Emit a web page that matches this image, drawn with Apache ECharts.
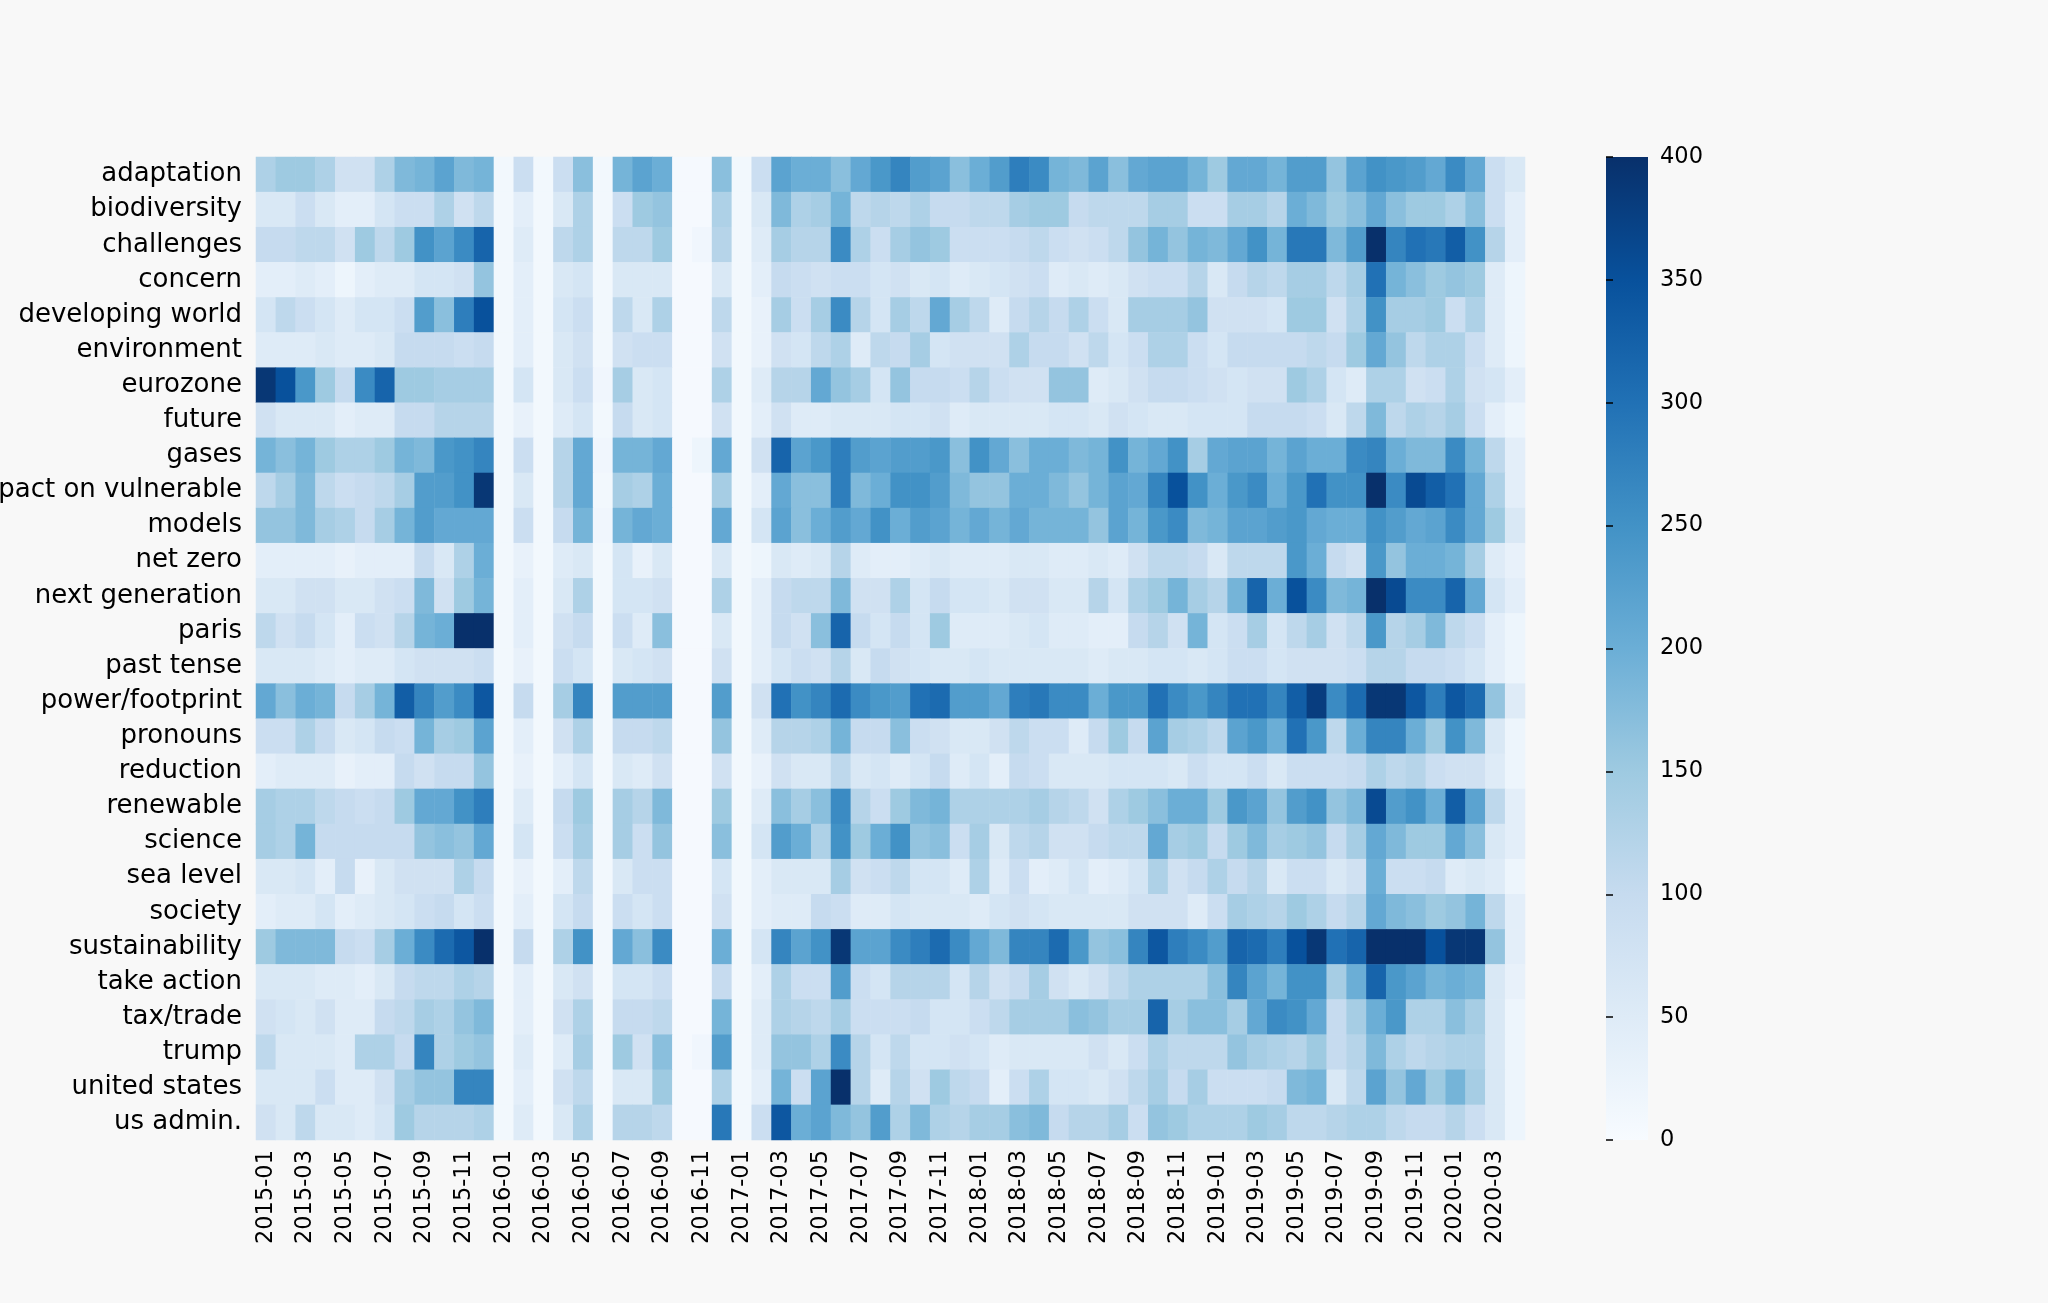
<!DOCTYPE html>
<html>
<head>
<meta charset="utf-8">
<script src="https://cdn.jsdelivr.net/npm/echarts@6/dist/echarts.min.js"></script>
<style>
  html, body { margin: 0; padding: 0; background: #f8f8f8; }
  #chart { width: 2048px; height: 1303px; }
</style>
</head>
<body>
<div id="chart"></div>
<script>
const terms = ['adaptation', 'biodiversity', 'challenges', 'concern', 'developing world', 'environment',
  'eurozone', 'future', 'gases', 'impact on vulnerable', 'models', 'net zero', 'next generation', 'paris',
  'past tense', 'power/footprint', 'pronouns', 'reduction', 'renewable', 'science', 'sea level', 'society',
  'sustainability', 'take action', 'tax/trade', 'trump', 'united states', 'us admin.'];

// 2015-01 .. 2020-04
const months = [];
for (let i = 0; i < 64; i++) {
  const y = 2015 + Math.floor(i / 12), m = (i % 12) + 1;
  months.push(y + '-' + (m < 10 ? '0' : '') + m);
}

// monthly counts per term, one row per term
const counts = [
  [130,150,150,130,80,80,130,180,190,220,180,190, 10,90,10,90,170,10,190,220,200,5,5,170,10,90, 220,200,200,170,210,240,270,230,220,170,200,230,280,260,190,180,220,170,210, 220,220,190,150,210,210,190,230,230,160,220,250,240,230,210,260,210,90,60],
  [60,60,90,60,40,40,70,90,90,130,80,110, 10,40,10,60,130,10,90,150,160,5,5,130,10,60, 180,130,140,190,110,120,110,130,100,100,110,110,140,150,150,100,110,110,110, 140,140,90,90,140,140,120,200,180,150,170,210,170,150,150,130,170,90,40],
  [100,100,110,110,80,150,110,150,250,220,260,320, 10,50,10,110,130,10,110,110,150,5,15,120,10,50, 140,120,120,260,130,90,140,160,150,90,90,90,100,110,90,80,90,110,160, 190,160,190,180,210,250,190,290,290,180,230,400,270,300,290,330,250,120,40],
  [40,40,50,40,20,40,50,50,70,70,80,160, 10,40,10,60,70,10,60,60,60,5,5,60,10,40, 100,90,80,90,90,70,80,60,70,50,60,70,80,90,50,60,50,60,80, 90,90,120,60,100,120,110,140,140,110,140,300,190,170,150,160,150,50,20],
  [70,110,90,70,50,70,70,90,230,170,280,350, 10,40,10,70,90,10,110,60,130,5,5,110,10,30, 140,90,140,260,120,70,140,110,210,140,110,50,100,120,100,130,90,60,140, 140,140,160,80,80,80,70,150,150,80,130,250,140,140,150,90,130,50,20],
  [50,50,50,60,50,50,60,100,100,100,90,100, 10,40,10,60,80,10,80,90,90,5,5,80,10,30, 80,70,110,130,50,110,100,140,70,80,80,80,130,100,100,80,110,70,90, 130,130,90,70,100,100,100,100,110,100,150,210,160,110,130,130,90,50,20],
  [390,350,240,150,100,260,320,150,150,140,140,140, 10,70,10,60,90,15,140,60,70,5,5,130,10,50, 120,120,210,160,140,70,160,100,100,90,120,90,80,80,160,160,50,60,80, 100,100,90,80,70,80,80,150,130,70,50,130,130,80,90,130,80,70,40],
  [80,60,60,60,40,50,50,100,100,120,120,120, 10,30,10,50,70,10,100,60,70,5,5,80,10,40, 80,50,50,60,60,60,70,70,80,50,60,60,60,60,70,70,60,80,70, 60,60,70,70,70,100,100,100,90,60,110,180,110,130,120,140,90,40,20],
  [190,170,190,150,130,130,150,190,180,240,250,270, 10,90,10,120,210,15,190,190,210,5,20,210,10,80, 320,220,240,280,230,220,230,230,240,170,250,210,170,200,200,180,190,250,190, 210,250,140,210,220,220,190,220,200,200,260,270,200,180,180,260,190,110,40],
  [110,140,180,110,90,100,110,140,230,230,250,390, 10,60,10,120,210,10,140,130,200,5,5,140,10,40, 210,170,170,280,180,200,250,250,230,180,160,160,200,200,180,160,190,220,210, 270,350,250,200,240,260,200,240,300,250,250,400,260,360,330,300,210,130,40],
  [160,160,180,140,130,100,140,190,230,210,210,210, 10,90,10,100,190,15,190,210,200,5,5,210,10,70, 220,170,200,230,210,250,200,230,220,190,210,190,210,190,190,190,160,220,190, 240,260,180,190,220,220,230,240,210,200,200,250,230,210,220,260,210,150,60],
  [40,40,40,40,30,40,40,40,100,60,130,200, 10,30,10,50,60,10,70,30,60,5,5,60,10,20, 60,50,60,120,50,40,40,50,60,50,50,50,60,60,50,50,60,50,80, 110,110,100,60,110,110,110,240,200,100,80,240,160,200,200,190,140,50,30],
  [60,60,80,80,60,60,80,90,180,80,150,190, 10,40,10,60,130,10,70,70,80,5,5,130,10,40, 100,110,110,180,80,80,130,70,100,70,70,60,80,80,60,60,120,70,130, 150,190,140,120,190,320,200,350,260,180,190,400,360,260,260,320,210,70,40],
  [110,80,100,70,40,90,80,120,190,200,400,400, 10,40,10,80,100,10,90,50,170,5,5,60,10,40, 100,80,170,320,100,70,100,70,150,50,50,50,60,70,50,50,40,40,100, 120,80,190,70,90,140,70,110,140,80,110,240,120,140,180,110,90,40,20],
  [60,60,60,50,40,50,50,70,80,80,80,90, 10,30,10,90,70,10,60,70,80,5,5,80,10,40, 70,90,80,120,60,100,80,70,60,60,70,60,60,60,60,60,50,60,60, 70,70,60,70,90,90,70,80,80,80,90,120,120,100,100,90,70,40,20],
  [210,170,200,190,100,140,190,330,270,230,260,340, 10,100,10,140,270,10,230,230,230,5,5,230,10,80, 300,250,270,310,260,240,230,300,310,230,230,210,280,290,260,260,200,240,240, 300,260,240,270,300,300,270,330,380,260,310,390,390,340,280,340,310,160,50],
  [90,90,130,100,60,70,100,90,190,140,150,220, 10,40,10,80,130,10,100,100,110,5,5,160,10,50, 120,120,130,190,100,100,170,90,80,60,60,80,110,90,90,50,100,150,100, 220,140,130,110,220,240,200,300,240,110,200,270,270,200,150,250,180,60,20],
  [40,50,50,50,30,40,40,100,80,100,100,160, 10,30,10,40,70,10,60,50,80,5,5,80,10,30, 80,60,60,110,60,70,50,70,100,50,70,40,100,90,60,60,60,70,70, 70,60,90,70,70,90,60,90,90,90,100,130,110,120,90,80,80,50,20],
  [140,130,130,110,100,90,100,150,210,210,250,280, 10,50,10,100,150,10,140,120,180,5,5,150,10,50, 170,140,170,260,120,90,150,180,190,130,130,130,130,140,120,110,80,130,150, 170,200,200,150,240,220,160,230,250,160,180,360,230,250,200,330,220,110,40],
  [140,130,190,100,100,100,100,100,160,170,160,210, 10,70,10,90,140,10,140,90,160,5,5,170,10,70, 230,200,130,250,150,200,250,160,170,90,140,60,110,120,80,80,100,110,110, 210,140,150,100,150,180,140,150,160,100,140,210,180,150,150,210,170,60,40],
  [60,60,70,40,100,30,60,80,80,80,130,100, 10,30,10,40,110,10,60,90,90,5,5,70,10,40, 60,60,60,140,80,90,110,70,70,50,130,50,90,40,50,70,40,50,70, 130,80,100,130,100,120,60,90,90,60,80,200,90,90,100,50,60,50,20],
  [40,50,50,70,40,50,60,70,90,100,70,90, 10,40,10,70,100,10,90,70,90,5,5,80,10,40, 50,50,100,90,50,50,70,60,60,60,50,70,80,70,60,60,60,60,80, 80,80,50,90,140,130,120,150,130,100,120,210,180,170,150,160,190,110,40],
  [150,180,180,180,100,90,140,200,260,310,340,400, 10,100,10,130,250,10,210,170,260,5,5,200,10,70, 270,220,250,390,220,220,260,280,310,260,210,180,270,270,310,240,160,170,270, 340,280,260,230,320,310,280,350,390,300,320,400,400,400,350,390,390,160,40],
  [60,60,60,50,50,40,60,100,110,110,130,120, 10,40,10,60,80,10,70,70,90,5,5,100,10,40, 130,90,90,230,90,70,120,120,120,70,120,80,100,140,80,60,80,110,130, 130,130,130,170,270,220,190,250,250,140,200,320,240,220,190,200,190,60,30],
  [80,70,60,80,50,50,100,110,140,130,160,180, 10,40,10,80,130,10,100,100,110,5,5,190,10,50, 130,120,110,140,90,90,90,100,70,70,90,110,140,140,140,170,160,140,140, 320,140,170,170,140,210,260,250,210,100,140,200,240,130,130,170,140,60,20],
  [110,60,60,60,50,130,130,100,270,130,150,160, 10,50,10,50,140,10,150,80,170,5,15,230,10,50, 160,160,130,260,120,70,110,70,70,80,70,50,60,60,60,60,80,60,90, 130,110,110,110,160,140,130,120,150,100,120,180,130,110,120,130,130,60,20],
  [60,60,60,90,50,50,80,140,160,160,270,270, 10,40,10,80,110,10,60,60,150,5,5,130,10,40, 190,90,220,400,120,50,120,80,150,110,100,40,90,130,70,70,60,80,110, 140,100,140,90,90,90,100,180,190,60,110,220,160,210,150,190,140,60,20],
  [80,60,110,60,60,50,70,150,120,120,120,130, 10,50,10,60,130,10,120,120,110,5,5,290,10,90, 340,200,220,180,160,230,130,180,130,120,140,140,170,180,100,120,120,140,90, 160,150,130,130,130,150,140,110,110,120,130,130,110,100,100,120,90,60,20]
];

const blues = ['#f7fbff', '#deebf7', '#c6dbef', '#9ecae1', '#6baed6', '#4292c6', '#2171b5', '#08519c', '#08306b'];

const data = [];
counts.forEach((row, y) => row.forEach((v, x) => data.push([x, y, v])));

const font = 'DejaVu Sans';
const chart = echarts.init(document.getElementById('chart'));
chart.setOption({
  backgroundColor: '#f8f8f8',
  animation: false,
  textStyle: { fontFamily: font },
  grid: [
    { left: 256, top: 157, width: 1269, height: 983, containLabel: false, outerBoundsMode: 'none' },
    { left: 1606, top: 157, width: 42, height: 983, containLabel: false, outerBoundsMode: 'none' }
  ],
  xAxis: [
    {
      type: 'category', data: months, gridIndex: 0,
      axisLine: { show: false },
      axisTick: { alignWithLabel: true, interval: 1, length: 7, lineStyle: { color: '#000', width: 1.5 } },
      axisLabel: { interval: 1, rotate: 90, color: '#000', fontSize: 22.5, fontFamily: font, margin: 10 },
      splitLine: { show: false }
    },
    {
      type: 'value', gridIndex: 1, min: 0, max: 1,
      axisLine: { show: false }, axisTick: { show: false }, axisLabel: { show: false }, splitLine: { show: false }
    }
  ],
  yAxis: [
    {
      type: 'category', data: terms, gridIndex: 0, inverse: true,
      axisLine: { show: false },
      axisTick: { alignWithLabel: true, length: 7, lineStyle: { color: '#000', width: 1.5 } },
      axisLabel: { color: '#000', fontSize: 26, fontFamily: font, margin: 14 },
      splitLine: { show: false }
    },
    {
      type: 'value', gridIndex: 1, position: 'right', min: 0, max: 400, interval: 50,
      axisLine: { show: false },
      axisTick: { show: true, length: 7, lineStyle: { color: '#000', width: 1.5 } },
      axisLabel: { color: '#000', fontSize: 22.5, fontFamily: font, margin: 12 },
      splitLine: { show: false }
    }
  ],
  visualMap: {
    type: 'continuous', min: 0, max: 400, seriesIndex: 0, show: false,
    inRange: { color: blues }
  },
  graphic: [{
    type: 'rect', left: 1606, top: 157, z: 0,
    shape: { width: 42, height: 983 },
    style: {
      fill: new echarts.graphic.LinearGradient(0, 1, 0, 0,
        blues.map((c, i) => ({ offset: i / (blues.length - 1), color: c })))
    }
  }],
  series: [{
    type: 'heatmap', xAxisIndex: 0, yAxisIndex: 0, data: data,
    itemStyle: { borderWidth: 0 },
    emphasis: { disabled: true }
  }]
});
</script>
</body>
</html>
